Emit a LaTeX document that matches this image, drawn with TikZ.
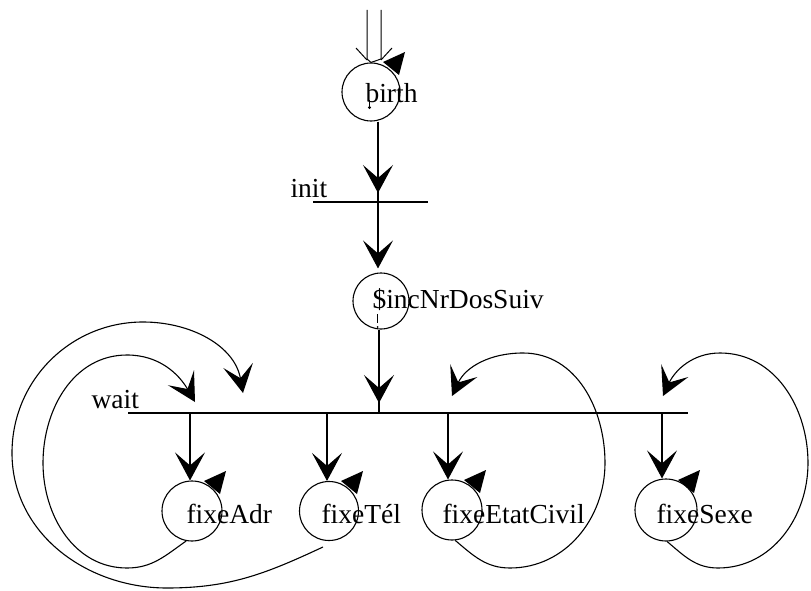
\documentclass[tikz,border=0pt]{standalone}
\usepackage{fontspec}
\setmainfont{Liberation Serif}
\usetikzlibrary{arrows.meta,calc}
\begin{document}
\begin{tikzpicture}[x=1pt,y=1pt,line width=1.1pt,
  state/.style={circle,draw,inner sep=0pt,minimum size=#1},
  lbl/.style={anchor=base west,inner sep=0pt,font=\fontsize{27.5}{30}\selectfont},
  bar/.style={line width=1.4pt},
  flow/.style={-{Stealth[length=28pt,width=30pt,inset=13pt]}},
  thinhead/.style={line width=1pt},
  marker/.style={fill=black},
  tick/.style={line width=0.9pt},
]
\useasboundingbox (0,0) rectangle (811,-591);

% places
\node[state=58pt] (birth) at (371,-92) {};
\node[state=56pt] (inc)   at (381,-301) {};
\node[state=60pt] (adr)   at (192,-511) {};
\node[state=59pt] (tel)   at (329,-511) {};
\node[state=60pt] (etat)  at (452,-510) {};
\node[state=62pt] (sexe)  at (666,-510) {};

% labels
\node[lbl] (birthL) at (365,-103) {birth};
\node[lbl] (initL)  at (290,-197) {init};
\node[lbl] (incL)   at (372,-308) {\$incNrDosSuiv};
\node[lbl] (waitL)  at (91,-408)  {wait};
\node[lbl] (adrL)   at (186,-523) {fixeAdr};
\node[lbl] (telL)   at (321,-523) {fixeTél};
\node[lbl] (etatL)  at (442,-523) {fixeEtatCivil};
\node[lbl] (sexeL)  at (656,-523) {fixeSexe};

% small ticks under the first letters
\draw[tick] (369,-100) -- (369,-106);
\fill (369.5,-107.5) circle (1.6pt);
\draw[tick] (377,-314) -- (377,-323);
\fill (377.5,-327) circle (1pt);

% transition bars
\coordinate (initA) at (313,-202);
\coordinate (initB) at (428,-202);
\coordinate (waitA) at (128,-413);
\coordinate (waitB) at (688,-413);
\draw[bar] (initA) -- (initB);
\draw[bar] (waitA) -- (waitB);

% points on the bars
\coordinate (i1) at (378,-202);
\coordinate (w0) at (379,-413);
\coordinate (w1) at (190,-413);
\coordinate (w2) at (327,-413);
\coordinate (w3) at (448,-413);
\coordinate (w4) at (662,-413);

% double entry arrow into birth
\coordinate (src) at (374,-10);
\draw[thinhead] ([xshift=-7pt]src) -- ([xshift=-7pt]src |- 0,-59) -- (birth.north);
\draw[thinhead] ([xshift=7pt]src) -- ([xshift=7pt]src |- 0,-59) -- (birth.north);
\draw[thinhead] ([xshift=-7pt]src |- 0,-60) -- ++(-11,12);
\draw[thinhead] ([xshift=7pt]src |- 0,-60) -- ++(11,12);

% birth -> init -> $incNrDosSuiv -> wait
\draw (i1 |- birth.south) -- (i1);
\draw[flow,shorten >=9pt] (i1 |- birth.south) -- (i1);
\draw[flow,shorten >=4pt] (i1) -- (i1 |- inc.north);
\draw (w0 |- inc.south) -- (w0);
\draw[flow,shorten >=10pt] (w0 |- inc.south) -- (w0);

% wait -> actions
\draw[flow] (w1) -- (w1 |- adr.north);
\draw[flow] (w2) -- (w2 |- tel.north);
\draw[flow] (w3) -- (w3 |- etat.north);
\draw[flow] (w4) -- (w4 |- sexe.north);

% return loops to wait
\coordinate (r1) at (195,-402);
\coordinate (r2) at (243,-393);
\coordinate (r3) at (452,-396);
\coordinate (r4) at (663,-396);
\coordinate (telOut) at (323,-547);

\draw[flow] (adr.-101) to[out=-145,in=0] (127,-568) to[out=180,in=-90] (43,-463)
  to[out=90,in=180] (127,-355) to[out=0,in=120] (r1);
\draw[flow] (telOut) to[out=-155,in=0] (167,-588) to[out=180,in=-90] (12,-453)
  to[out=90,in=180] (143,-322) to[out=0,in=100] (r2);
\draw[flow] (etat.-84) to[out=-40,in=180] (510,-568) to[out=0,in=-90] (605,-463)
  to[out=90,in=0] (523,-353) to[out=180,in=65] (r3);
\draw[flow] (sexe.-88) to[out=-40,in=180] (718,-568) to[out=0,in=-90] (808,-463)
  to[out=90,in=0] (720,-353) to[out=180,in=65] (r4);

% action markers
\foreach \n in {birth,adr,tel,etat,sexe}
  \fill[marker] ($(\n)+(34,40)$) -- ($(\n)+(12,30)$) -- ($(\n)+(28,17)$) -- cycle;
\end{tikzpicture}
\end{document}
